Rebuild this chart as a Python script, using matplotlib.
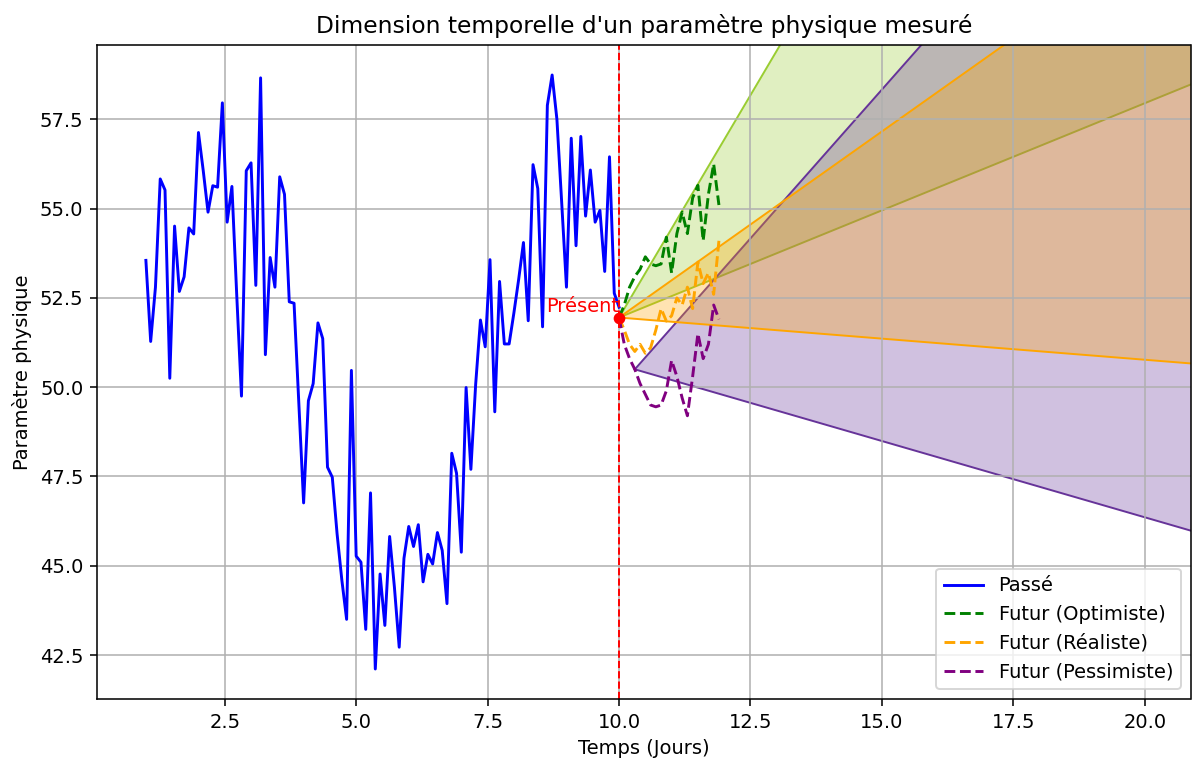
import numpy as np
import matplotlib
matplotlib.use("Agg")
import matplotlib.pyplot as plt
from matplotlib.colors import to_rgba

# ---- data ----
t_past = np.linspace(1, 10, 100)
v_past = [53.55, 51.28, 52.8, 55.83, 55.52, 50.25, 54.51, 52.68, 53.09, 54.46,
          54.29, 57.13, 56.06, 54.9, 55.64, 55.6, 57.96, 54.62, 55.62, 52.6,
          49.75, 56.06, 56.28, 52.85, 58.66, 50.91, 53.63, 52.8, 55.89, 55.4,
          52.39, 52.35, 49.55, 46.76, 49.62, 50.1, 51.8, 51.36, 47.76, 47.48,
          45.9, 44.6, 43.5, 50.47, 45.27, 45.1, 43.22, 47.04, 42.11, 44.77,
          43.33, 45.82, 44.4, 42.72, 45.21, 46.1, 45.54, 46.15, 44.55, 45.32,
          45.05, 45.93, 45.43, 43.94, 48.15, 47.59, 45.38, 49.99, 47.7, 50.08,
          51.88, 51.13, 53.57, 49.31, 52.96, 51.21, 51.21, 52.08, 53.02, 54.05,
          51.86, 56.23, 55.56, 51.69, 57.89, 58.74, 57.5, 55.17, 52.8, 56.97,
          53.96, 57.02, 54.79, 56.08, 54.62, 54.95, 53.24, 56.45, 52.63, 52.24]

t_future = np.arange(20) * 0.1 + 10.0
v_optimiste = [51.95, 52.3, 52.8, 53.1, 53.3, 53.65, 53.45, 53.4, 53.45, 54.2,
               53.2, 54.3, 54.9, 54.3, 55.3, 55.65, 54.1, 55.4, 56.25, 55.1]
v_realiste = [51.95, 51.6, 51.2, 51.0, 51.2, 50.95, 51.1, 51.6, 52.2, 51.85,
              52.0, 52.5, 52.3, 52.8, 52.2, 53.5, 52.9, 53.2, 52.6, 54.1]
v_pessimiste = [51.95, 51.2, 50.8, 50.5, 50.1, 49.8, 49.5, 49.45, 49.5, 49.9,
                50.75, 50.3, 49.7, 49.2, 50.3, 51.5, 50.8, 51.2, 52.3, 51.9]

present_t = 10.0
present_v = 51.95

# cones (drawn in this order): start point, end time, upper/lower values at end time
cone_names = ["Optimiste", "Pessimiste", "Réaliste"]
cone_start_t = [10.0, 10.3, 10.0]
cone_start_v = [51.95, 50.5, 51.95]
cone_end_t = [21.0, 21.0, 21.0]
cone_upper_end = [79.34, 68.33, 63.41]
cone_lower_end = [58.55, 45.93, 50.65]
cone_colors = ["yellowgreen", "rebeccapurple", "orange"]

# ---- figure ----
fig = plt.figure(figsize=(1192 / 140, 760 / 140), dpi=140)
ax = fig.add_axes([97 / 1192, 1 - 699 / 760, (1190.5 - 97) / 1192, (699 - 45) / 760])

ax.plot(t_past, v_past, color="blue", label="Passé")
ax.plot(t_future, v_optimiste, "--", color="green", label="Futur (Optimiste)")
ax.plot(t_future, v_realiste, "--", color="orange", label="Futur (Réaliste)")
ax.plot(t_future, v_pessimiste, "--", color="purple", label="Futur (Pessimiste)")

for ts, vs, te, vu, vl, c in zip(cone_start_t, cone_start_v, cone_end_t,
                                 cone_upper_end, cone_lower_end, cone_colors):
    ax.fill([ts, te, te], [vs, vu, vl], facecolor=to_rgba(c, 0.3),
            edgecolor=c, linewidth=1.0)

ax.axvline(present_t, color="red", linestyle="--", linewidth=1.0)
ax.plot([present_t], [present_v], "o", color="red", markersize=5)
ax.text(present_t, present_v + 0.05, "Présent", color="red", ha="right", va="bottom",
        fontsize=10)

ax.set_xlim(0.07, 20.87)
ax.set_ylim(41.27, 59.58)
ax.set_xticks([2.5, 5.0, 7.5, 10.0, 12.5, 15.0, 17.5, 20.0])
ax.set_yticks([42.5, 45.0, 47.5, 50.0, 52.5, 55.0, 57.5])
ax.grid(True)
ax.set_title("Dimension temporelle d'un paramètre physique mesuré")
ax.set_xlabel("Temps (Jours)")
ax.set_ylabel("Paramètre physique")
ax.legend(loc="lower right")

fig.savefig("out.png", dpi=140)
